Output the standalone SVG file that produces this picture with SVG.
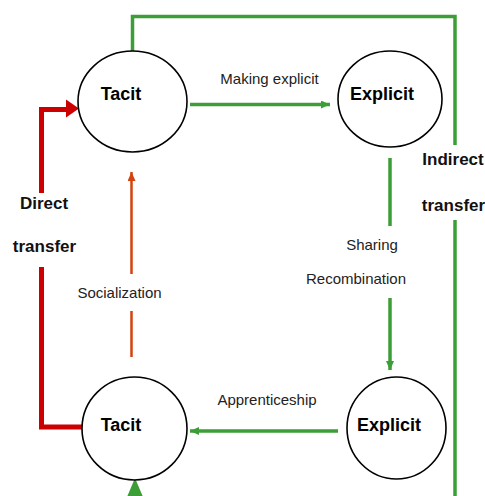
<svg xmlns="http://www.w3.org/2000/svg" width="485" height="496" viewBox="0 0 485 496">
<style>
.node{fill:#fff;stroke:#000;stroke-width:1.6}
.nt{font-family:"Liberation Sans",Arial,sans-serif;font-weight:bold;font-size:18px;fill:#000;text-anchor:middle}
.bl{font-family:"Liberation Sans",Arial,sans-serif;font-weight:bold;font-size:17px;fill:#111;text-anchor:middle}
.lb{font-family:"Liberation Sans",Arial,sans-serif;font-size:15px;fill:#222;text-anchor:middle}
.g{fill:none;stroke:#3c9e36;stroke-width:3.5}
.o{fill:none;stroke:#d4420e;stroke-width:2.5}
.r{fill:none;stroke:#cc0000;stroke-width:5}
</style>
<defs>
<marker id="ga" markerUnits="userSpaceOnUse" markerWidth="10" markerHeight="10" refX="9" refY="4" orient="auto"><path d="M0,0 L9,4 L0,8 Z" fill="#3c9e36"/></marker>
<marker id="oa" markerUnits="userSpaceOnUse" markerWidth="10" markerHeight="10" refX="9" refY="4" orient="auto"><path d="M0,0 L9,4 L0,8 Z" fill="#d4420e"/></marker>
</defs>
<g id="connectors">
<path class="g" d="M132.5 51 V16.5 H455 V145"/>
<path class="g" d="M455 220 V496"/>
<path class="g" d="M190 104.5 H330" marker-end="url(#ga)"/>
<path class="g" d="M390 158 V226"/>
<path class="g" d="M390 298 V370" marker-end="url(#ga)"/>
<path class="g" d="M338 431 H190" marker-end="url(#ga)"/>
<polygon points="135,478 127,497 143,497" fill="#3c9e36"/>
<path class="o" d="M131.5 357 V311"/>
<path class="o" d="M131.5 274 V172" marker-end="url(#oa)"/>
<path class="r" d="M82 427 H41.5 V267"/>
<path class="r" d="M41.5 193 V109.5 H68"/>
<polygon points="66,99.5 79,108.5 66,117.5" fill="#cc0000"/>
</g>
<g id="tacit-top"><ellipse class="node" cx="132.5" cy="101.5" rx="54.5" ry="50.5"/><text class="nt" x="121" y="100">Tacit</text></g>
<g id="explicit-top"><ellipse class="node" cx="390" cy="99" rx="52" ry="48"/><text class="nt" x="382" y="100">Explicit</text></g>
<g id="tacit-bottom"><ellipse class="node" cx="134.5" cy="428.5" rx="52.5" ry="51.5"/><text class="nt" x="121" y="431">Tacit</text></g>
<g id="explicit-bottom"><ellipse class="node" cx="396.5" cy="428" rx="49.5" ry="51"/><text class="nt" x="389" y="431">Explicit</text></g>
<g id="labels">
<text class="lb" x="269.5" y="84">Making explicit</text>
<text class="lb" x="372" y="250">Sharing</text>
<text class="lb" x="356" y="284">Recombination</text>
<text class="lb" x="267" y="405">Apprenticeship</text>
<text class="lb" x="119.5" y="298">Socialization</text>
<text class="bl" x="44" y="209">Direct</text>
<text class="bl" x="44.5" y="252">transfer</text>
<text class="bl" x="453" y="165">Indirect</text>
<text class="bl" x="453.5" y="211">transfer</text>
</g>
</svg>
